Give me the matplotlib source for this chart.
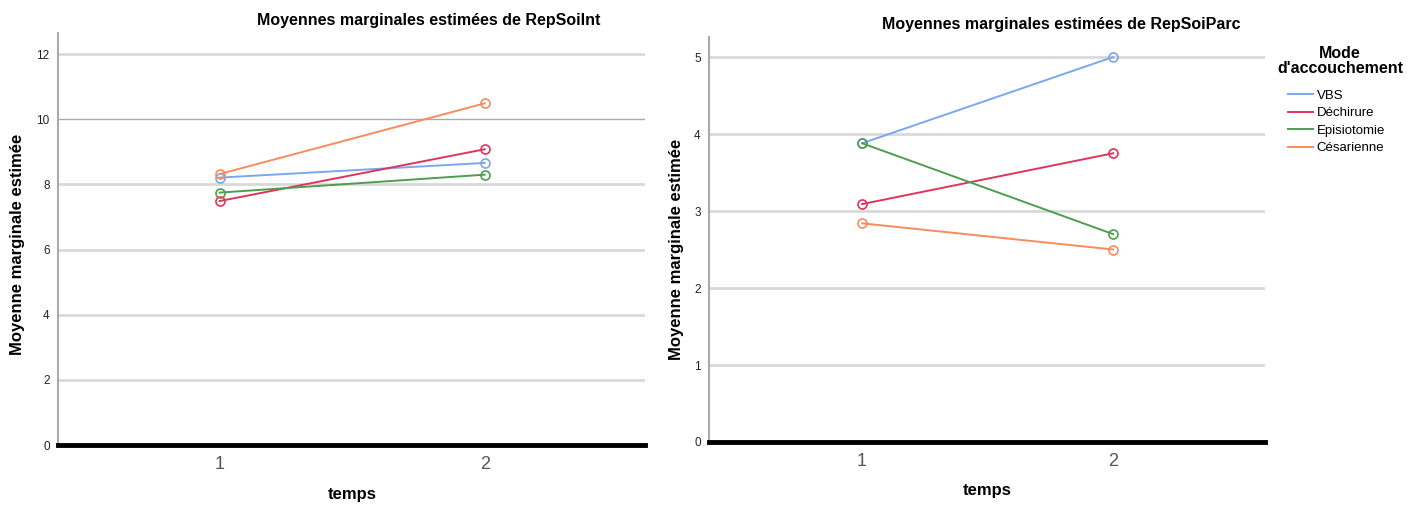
import numpy as np
import matplotlib.pyplot as plt

plt.rcParams['font.family'] = ['Liberation Sans', 'DejaVu Sans']

temps = [1, 2]
groupes = ["VBS", "Déchirure", "Episiotomie", "Césarienne"]
couleurs = ["#7aa7ee", "#e0345c", "#4f9d4f", "#f88c5c"]

# RepSoiInt
vbs_int = [8.21, 8.66]
dech_int = [7.49, 9.08]
epi_int = [7.75, 8.30]
ces_int = [8.32, 10.49]

# RepSoiParc
vbs_parc = [3.88, 5.00]
dech_parc = [3.09, 3.75]
epi_parc = [3.88, 2.70]
ces_parc = [2.84, 2.50]

W, H = 1412, 507
fig = plt.figure(figsize=(W/100, H/100), dpi=100)

def make_ax(x0, x1, ybot, ytop):
    return fig.add_axes([x0/W, 1-ybot/H, (x1-x0)/W, (ybot-ytop)/H])

def style(ax, ymax, yticks, darkline=None):
    ax.set_xlim(0.39, 2.605)
    ax.set_ylim(0, ymax)
    ax.set_yticks(yticks)
    ax.set_xticks(temps)
    ax.set_xticklabels(["1", "2"], fontsize=13, color="#555555")
    ax.tick_params(axis="y", labelsize=8.5, length=0, pad=6, colors="#222222")
    ax.tick_params(axis="x", length=0, pad=8)
    for s in ["top", "right"]:
        ax.spines[s].set_visible(False)
    ax.spines["left"].set_color("#aaaaaa")
    ax.spines["left"].set_linewidth(1.5)
    ax.spines["bottom"].set_color("black")
    ax.spines["bottom"].set_linewidth(3.5)
    for t in yticks[1:]:
        c = "#aaaaaa" if t == darkline else "#d9d9d9"
        lw = 1.0 if t == darkline else 2.0
        ax.axhline(t, color=c, lw=lw, zorder=0)

def draw(ax, series):
    for vals, col, lab in zip(series, couleurs, groupes):
        ax.plot(temps, vals, color=col, lw=1.4, marker="o", ms=6.5,
                mfc="none", mec=col, mew=1.2, label=lab, zorder=3)

ax1 = make_ax(58, 645, 445, 33)
style(ax1, 12.65, [0, 2, 4, 6, 8, 10, 12], darkline=10)
draw(ax1, [vbs_int, dech_int, epi_int, ces_int])

ax2 = make_ax(709, 1265, 442, 37)
style(ax2, 5.26, [0, 1, 2, 3, 4, 5])
draw(ax2, [vbs_parc, dech_parc, epi_parc, ces_parc])

fig.text(429/W, 1-20/H, "Moyennes marginales estimées de RepSoilnt",
         ha="center", va="center", fontsize=11.5, fontweight="bold")
fig.text(1061/W, 1-24/H, "Moyennes marginales estimées de RepSoiParc",
         ha="center", va="center", fontsize=11.5, fontweight="bold")
fig.text(18/W, 1-244/H, "Moyenne marginale estimée", rotation=90,
         ha="center", va="center", fontsize=12, fontweight="bold")
fig.text(677/W, 1-249/H, "Moyenne marginale estimée", rotation=90,
         ha="center", va="center", fontsize=12, fontweight="bold")
fig.text(352/W, 1-495/H, "temps", ha="center", va="center",
         fontsize=12, fontweight="bold")
fig.text(987/W, 1-490/H, "temps", ha="center", va="center",
         fontsize=12, fontweight="bold")

fig.text(1340/W, 1-61/H, "Mode\nd'accouchement", ha="center", va="center",
         fontsize=11.5, fontweight="bold", linespacing=1.05)

leg = ax2.legend(loc="upper left", bbox_to_anchor=(1281/W, 1-83/H),
                 bbox_transform=fig.transFigure, frameon=False,
                 fontsize=9.5, borderpad=0, handlelength=1.9,
                 handletextpad=0.3, labelspacing=0.4)
for h in leg.get_lines():
    h.set_marker("")

fig.savefig("out.png", dpi=100)
